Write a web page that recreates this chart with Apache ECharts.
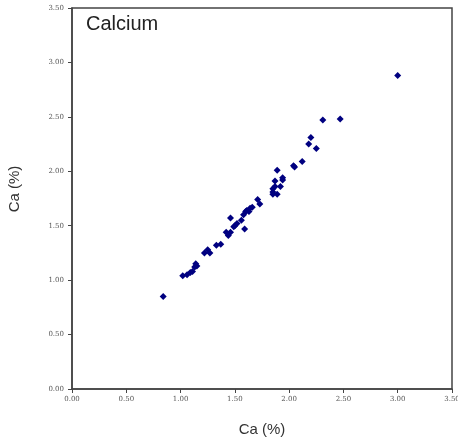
<!DOCTYPE html>
<html>
<head>
<meta charset="utf-8">
<script src="https://cdn.jsdelivr.net/npm/echarts@6/dist/echarts.min.js"></script>
<style>html,body{margin:0;padding:0;background:#fff;}#c{width:458px;height:446px;}</style>
</head>
<body>
<div id="c"></div>
<script>
var titleText = "Calcium";
var xName = "Ca (%)";
var yName = "Ca (%)";
var xValues = [3.00,2.47,2.31,2.20,2.18,2.25,2.12,2.04,2.05,1.89,1.94,1.94,1.87,1.92,1.87,1.85,1.85,1.85,1.89,1.71,1.73,1.66,1.64,1.61,1.60,1.58,1.63,1.46,1.56,1.52,1.50,1.49,1.59,1.42,1.44,1.46,1.33,1.37,1.22,1.25,1.27,1.14,1.15,1.13,1.11,1.09,1.06,1.02,0.84];
var yValues = [2.88,2.48,2.47,2.31,2.25,2.21,2.09,2.05,2.04,2.01,1.94,1.92,1.91,1.86,1.86,1.84,1.81,1.79,1.79,1.74,1.70,1.67,1.66,1.64,1.63,1.60,1.63,1.57,1.55,1.52,1.50,1.49,1.47,1.44,1.41,1.44,1.32,1.33,1.25,1.28,1.25,1.15,1.13,1.12,1.08,1.07,1.05,1.04,0.85];
var points = xValues.map(function(x, i){ return [x, yValues[i]]; });

var chart = echarts.init(document.getElementById('c'), null, {renderer:'canvas'});
var labelStyle = {fontFamily:'DejaVu Serif', fontSize:7, color:'#555', formatter:function(v){return v.toFixed(2);}};
chart.setOption({
  backgroundColor:'#fff',
  animation:false,
  grid:{left:72, top:8, right:6, bottom:57, containLabel:false, outerBoundsMode:'none', show:true, borderColor:'#444', borderWidth:1.5, backgroundColor:'transparent'},
  xAxis:{type:'value', min:0, max:3.5, interval:0.5,
    axisLine:{show:true, lineStyle:{color:'#444', width:1.5}},
    axisTick:{show:true, inside:false, length:4, lineStyle:{color:'#444'}},
    axisLabel:Object.assign({margin:7, hideOverlap:false}, labelStyle),
    splitLine:{show:false}},
  yAxis:{type:'value', min:0, max:3.5, interval:0.5,
    axisLine:{show:true, lineStyle:{color:'#444', width:1.5}},
    axisTick:{show:true, inside:false, length:4, lineStyle:{color:'#444'}},
    axisLabel:Object.assign({margin:8}, labelStyle),
    splitLine:{show:false}},
  graphic:[
    {type:'text', left:86, top:14, style:{text:titleText, font:'20px "Liberation Sans"', fill:'#222'}},
    {type:'text', x:262, y:430, style:{text:xName, font:'15px "Liberation Sans"', fill:'#333', textAlign:'center', textVerticalAlign:'middle'}},
    {type:'text', x:15, y:189, rotation:Math.PI/2, style:{text:yName, font:'15px "Liberation Sans"', fill:'#333', textAlign:'center', textVerticalAlign:'middle'}}
  ],
  series:[{type:'scatter', data:points, symbol:'diamond', symbolSize:7, itemStyle:{color:'#000080', opacity:1}}]
});
</script>
</body>
</html>
